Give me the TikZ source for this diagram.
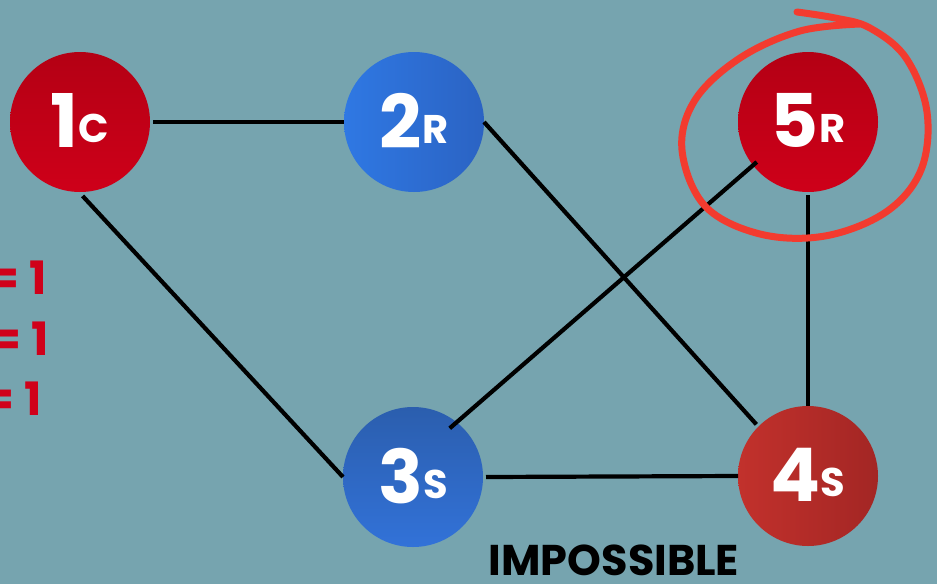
\documentclass[tikz,border=0pt]{standalone}
\usepackage{fontspec}
\setmainfont{Poppins}
\definecolor{bg}{HTML}{76A4AF}
\definecolor{redtop}{HTML}{B40014}
\definecolor{redbot}{HTML}{CE0019}
\definecolor{bluel}{HTML}{2F78E3}
\definecolor{bluer}{HTML}{2B63C3}
\definecolor{bluetop}{HTML}{2B5EAE}
\definecolor{bluebot}{HTML}{3272D8}
\definecolor{brickl}{HTML}{C2312C}
\definecolor{brickr}{HTML}{A32624}
\definecolor{marker}{HTML}{F33B2F}
\definecolor{eqred}{HTML}{D0001A}
\newcommand\vtext[2]{\raisebox{3pt}{\fontsize{74}{74}\selectfont\bfseries #1\raisebox{5pt}{\fontsize{40}{40}\selectfont #2}}}
\tikzset{
  vertex/.style={circle, minimum size=140pt, inner sep=0pt, outer sep=0pt, text=white},
  redv/.style={vertex, top color=redtop, bottom color=redbot},
  brickv/.style={vertex, left color=brickl, right color=brickr},
  bluehv/.style={vertex, left color=bluel, right color=bluer},
  bluevv/.style={vertex, top color=bluetop, bottom color=bluebot},
  edge/.style={line width=4.2pt, black},
  eqtext/.style={anchor=base east, inner sep=0pt, text=eqred, font=\fontsize{46}{46}\selectfont\bfseries},
}
\begin{document}
\begin{tikzpicture}[x=1pt, y=1pt]
  \fill[bg] (0,0) rectangle (937,-584);
  \useasboundingbox (0,0) rectangle (937,-584);
  \clip (0,0) rectangle (937,-584);

  % vertices
  \node[redv]   (n1) at (80,-122)  {\vtext{1}{C}};
  \node[bluehv] (n2) at (414,-122) {\vtext{2}{R}};
  \node[bluevv] (n3) at (413,-477) {\vtext{3}{S}};
  \node[brickv] (n4) at (808,-476) {\vtext{4}{S}};
  \node[redv]   (n5) at (808,-122) {\vtext{5}{R}};

  % edges
  \draw[edge] ([xshift=3pt]n1.east) -- (n2.west);
  \draw[edge] ([shift={(-88:74)}]n1.center) -- (n3.west);
  \draw[edge] (n2.east) -- ([shift={(135:73)}]n4.center);
  \draw[edge] ([shift={(53:61)}]n3.center) -- ([shift={(218:65)}]n5.center);
  \draw[edge] ([yshift=-3pt]n5.south) -- (n4.north);
  \draw[edge] ([xshift=3pt]n3.east) -- (n4.west);

  % hand-drawn marker loop round vertex 5
  \draw[marker, line width=7pt, line cap=round, line join=round]
    plot[smooth, tension=0.6] coordinates {
      (797,-12) (835,-18) (870,-28) (906,-58) (927,-112) (921,-170)
      (886,-212) (825,-236) (760,-234) (705,-206) (682,-150) (695,-100)
      (740,-58) (800,-31) (860,-24)};

  % equations at the left margin
  \node[eqtext] (eqa) at (47,-294) {= 1};
  \node[eqtext] (eqb) at (49,-355) {= 1};
  \node[eqtext] (eqc) at (42,-415) {= 1};

  % caption
  \node[anchor=base, inner sep=0pt, font=\fontsize{43}{43}\selectfont\bfseries] (cap) at (614,-575) {IMPOSSIBLE};
\end{tikzpicture}
\end{document}
